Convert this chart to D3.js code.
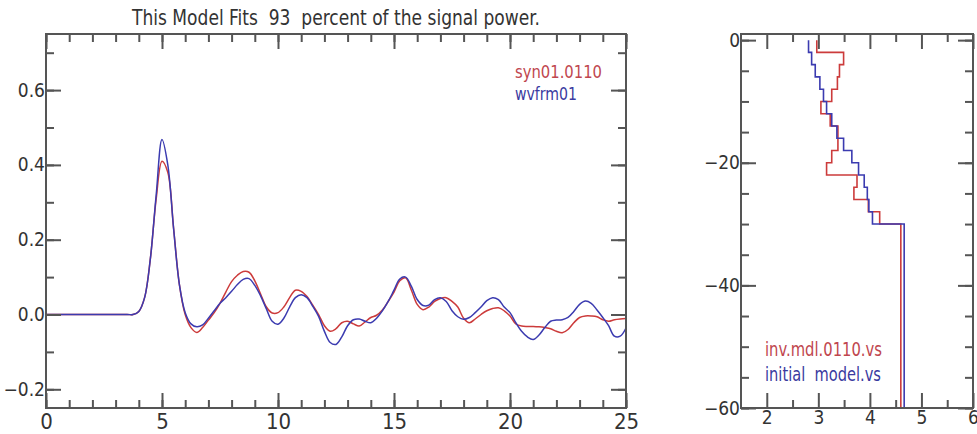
<!DOCTYPE html>
<html>
<head>
<meta charset="utf-8">
<script src="https://cdn.jsdelivr.net/npm/d3@7"></script>
<style>
  html, body { margin: 0; padding: 0; background: #fff; }
  svg { display: block; }
</style>
</head>
<body>
<svg id="chart" width="977" height="434"></svg>
<script>
// ---------------- DATA ----------------
const titleText = "This Model Fits  93  percent of the signal power.";
const waveNames = ["syn01.0110", "wvfrm01"];
const modelNames = ["inv.mdl.0110.vs", "initial  model.vs"];

const waveTime = [0, 3.5, 3.75, 4.0, 4.25, 4.5, 4.75, 5.0, 5.25, 5.5, 5.75, 6.0, 6.25, 6.5, 6.75,
  7.0, 7.25, 7.5, 7.75, 8.0, 8.25, 8.5, 8.75, 9.0, 9.25, 9.5, 9.75, 10.0, 10.25, 10.5, 10.75,
  11.0, 11.25, 11.5, 11.75, 12.0, 12.25, 12.5, 12.75, 13.0, 13.25, 13.5, 13.75, 14.0, 14.25,
  14.5, 14.75, 15.0, 15.25, 15.5, 15.75, 16.0, 16.25, 16.5, 16.75, 17.0, 17.25, 17.5, 17.75,
  18.0, 18.25, 18.5, 18.75, 19.0, 19.25, 19.5, 19.75, 20.0, 20.25, 20.5, 20.75, 21.0, 21.25,
  21.5, 21.75, 22.0, 22.25, 22.5, 22.75, 23.0, 23.25, 23.5, 23.75, 24.0, 24.25, 24.5, 24.75, 25.0];

const synValues = [0, 0, 0, 0.008, 0.045, 0.15, 0.31, 0.41, 0.38, 0.23, 0.08, 0.0, -0.035, -0.048, -0.035,
  -0.015, 0.005, 0.03, 0.06, 0.088, 0.105, 0.115, 0.113, 0.09, 0.055, 0.02, 0.004, 0.005, 0.02, 0.045, 0.065,
  0.062, 0.048, 0.025, 0.0, -0.03, -0.045, -0.038, -0.022, -0.018, -0.025, -0.031, -0.02, -0.008, -0.002,
  0.012, 0.035, 0.06, 0.09, 0.098, 0.065, 0.027, 0.013, 0.02, 0.035, 0.043, 0.045, 0.035, 0.02,
  -0.01, -0.022, -0.012, 0.0, 0.01, 0.016, 0.018, 0.01, -0.004, -0.025, -0.031, -0.032, -0.032, -0.033,
  -0.035, -0.038, -0.045, -0.049, -0.04, -0.022, -0.008, -0.004, -0.004, -0.006, -0.014, -0.018, -0.014, -0.012, -0.011];

const wvfrmValues = [0, 0, 0, 0.008, 0.045, 0.15, 0.32, 0.468, 0.40, 0.23, 0.08, 0.005, -0.025, -0.033, -0.028,
  -0.01, 0.01, 0.03, 0.045, 0.062, 0.08, 0.094, 0.096, 0.078, 0.05, 0.015, -0.018, -0.026, -0.01, 0.02, 0.045,
  0.053, 0.045, 0.022, -0.005, -0.045, -0.075, -0.08, -0.06, -0.03, -0.014, -0.012, -0.018, -0.022, -0.01,
  0.01, 0.035, 0.065, 0.095, 0.1, 0.075, 0.04, 0.024, 0.025, 0.04, 0.045, 0.035, 0.01, -0.006,
  -0.013, -0.008, 0.005, 0.02, 0.037, 0.045, 0.04, 0.02, 0.005, -0.022, -0.045, -0.06, -0.067, -0.055,
  -0.035, -0.018, -0.015, -0.014, -0.008, 0.008, 0.027, 0.036, 0.03, 0.012, -0.008, -0.03, -0.058, -0.058, -0.036];

const waveXTicks = [0, 5, 10, 15, 20, 25];
const waveYTicks = [-0.2, 0.0, 0.2, 0.4, 0.6];

// velocity model: layer tops (km, negative = depth) and shear velocities (km/s)
const layerTops = [0, -2, -4, -6, -8, -10, -12, -14, -16, -18, -20, -22, -24, -26, -28, -30];
const modelBottom = -60;
const invVs  = [2.97, 3.49, 3.41, 3.37, 3.26, 3.05, 3.23, 3.38, 3.38, 3.26, 3.16, 3.75, 3.69, 3.97, 4.19, 4.60];
const initVs = [2.81, 2.87, 2.94, 3.03, 3.10, 3.16, 3.26, 3.36, 3.49, 3.65, 3.78, 3.89, 3.95, 3.98, 4.05, 4.665];

const modelXTicks = [2, 3, 4, 5, 6];
const modelYTicks = [0, -20, -40, -60];

// ---------------- DRAW ----------------
const FONT = "'Liberation Sans Narrow', 'Arial Narrow', 'DejaVu Sans Condensed', 'Liberation Sans', sans-serif";
const AXIS = "#555";
const TEXT = "#333";
const RED = "#cc3b3b";
const BLUE = "#3b3bb0";
const svg = d3.select("#chart");

function fmt(v) {
  const s = Math.abs(v) < 1e-9 ? "0.0" : d3.format(".1f")(v);
  return s.replace("-", "\u2212");
}
function fmtInt(v) { return String(v).replace("-", "\u2212"); }

function styleAxis(g) {
  g.select(".domain").remove();
  g.selectAll("line").attr("stroke", AXIS).attr("stroke-width", 2);
  g.selectAll("text").attr("fill", TEXT).style("font-family", FONT);
}

function frameAxes(x, y, opts) {
  const [x0, x1] = x.range();
  const [y0, y1] = y.range(); // y0 bottom, y1 top
  const M = 15, m = 8;
  // bottom (with labels)
  svg.append("g").attr("transform", `translate(0,${y0})`)
    .call(d3.axisBottom(x).tickValues(opts.xMinor).tickSize(-m).tickFormat(""))
    .call(styleAxis);
  const bx = svg.append("g").attr("transform", `translate(0,${y0})`)
    .call(d3.axisBottom(x).tickValues(opts.xMajor).tickSize(-M).tickPadding(opts.xPad).tickFormat(opts.xFmt))
    .call(styleAxis);
  bx.selectAll("text").style("font-size", opts.xFont + "px");
  // top
  svg.append("g").attr("transform", `translate(0,${y1})`)
    .call(d3.axisTop(x).tickValues(opts.xMinor).tickSize(-m).tickFormat(""))
    .call(styleAxis);
  svg.append("g").attr("transform", `translate(0,${y1})`)
    .call(d3.axisTop(x).tickValues(opts.xMajor).tickSize(-M).tickFormat(""))
    .call(styleAxis);
  // left (with labels)
  svg.append("g").attr("transform", `translate(${x0},0)`)
    .call(d3.axisLeft(y).tickValues(opts.yMinor).tickSize(-m).tickFormat(""))
    .call(styleAxis);
  const ly = svg.append("g").attr("transform", `translate(${x0},0)`)
    .call(d3.axisLeft(y).tickValues(opts.yMajor).tickSize(-M).tickPadding(1).tickFormat(opts.yFmt))
    .call(styleAxis);
  ly.selectAll("text").style("font-size", opts.yFont + "px");
  // right
  svg.append("g").attr("transform", `translate(${x1},0)`)
    .call(d3.axisRight(y).tickValues(opts.yMinor).tickSize(-m).tickFormat(""))
    .call(styleAxis);
  svg.append("g").attr("transform", `translate(${x1},0)`)
    .call(d3.axisRight(y).tickValues(opts.yMajor).tickSize(-M).tickFormat(""))
    .call(styleAxis);
  // frame
  svg.append("rect").attr("x", x0).attr("y", y1).attr("width", x1 - x0).attr("height", y0 - y1)
    .attr("fill", "none").attr("stroke", AXIS).attr("stroke-width", 2);
}

// ---- left: waveforms ----
const xW = d3.scaleLinear().domain([0, 25]).range([46, 626]);
const yW = d3.scaleLinear().domain([-0.25, 0.75]).range([408, 34]);

const waveLine = vals => d3.line()
  .x((d, i) => xW(waveTime[i]))
  .y((d, i) => yW(vals[i]))
  .curve(d3.curveCatmullRom.alpha(0.5))(vals);

svg.append("path").attr("d", waveLine(synValues))
  .attr("fill", "none").attr("stroke", RED).attr("stroke-width", 1.5);
svg.append("path").attr("d", waveLine(wvfrmValues))
  .attr("fill", "none").attr("stroke", BLUE).attr("stroke-width", 1.5);

frameAxes(xW, yW, {
  xMajor: waveXTicks, xMinor: d3.range(0, 26, 1),
  yMajor: waveYTicks, yMinor: d3.range(-0.2, 0.75, 0.1).map(v => +v.toFixed(2)),
  xFmt: d => String(d), yFmt: fmt, xFont: 22, yFont: 19, xPad: 5
});

svg.append("text").attr("x", 132).attr("y", 25).text(titleText)
  .style("white-space", "pre").style("font-family", FONT).style("font-size", "21px")
  .attr("fill", TEXT).attr("textLength", 408).attr("lengthAdjust", "spacingAndGlyphs");

svg.append("text").attr("x", 515).attr("y", 78).text(waveNames[0])
  .style("font-family", FONT).style("font-size", "18px").attr("fill", "#c0464e")
  .attr("textLength", 87).attr("lengthAdjust", "spacingAndGlyphs");
svg.append("text").attr("x", 515).attr("y", 100).text(waveNames[1])
  .style("font-family", FONT).style("font-size", "18px").attr("fill", "#3a3aa0")
  .attr("textLength", 62).attr("lengthAdjust", "spacingAndGlyphs");

// ---- right: velocity model ----
const xM = d3.scaleLinear().domain([1.5, 6]).range([741, 973]);
const yM = d3.scaleLinear().domain([-60, 1]).range([408, 34]);

function profilePoints(vs) {
  const pts = [];
  vs.forEach((v, i) => {
    const top = layerTops[i];
    const bot = i + 1 < layerTops.length ? layerTops[i + 1] : modelBottom;
    pts.push([v, top], [v, bot]);
  });
  return pts;
}
const profLine = d3.line().x(d => xM(d[0])).y(d => yM(d[1]));

svg.append("path").attr("d", profLine(profilePoints(invVs)))
  .attr("fill", "none").attr("stroke", RED).attr("stroke-width", 1.6);
svg.append("path").attr("d", profLine(profilePoints(initVs)))
  .attr("fill", "none").attr("stroke", BLUE).attr("stroke-width", 1.6);

frameAxes(xM, yM, {
  xMajor: modelXTicks, xMinor: [2.5, 3.5, 4.5, 5.5],
  yMajor: modelYTicks, yMinor: d3.range(0, -61, -5),
  xFmt: d => String(d), yFmt: fmtInt, xFont: 19, yFont: 19, xPad: 2
});

svg.append("text").attr("x", 765).attr("y", 356).text(modelNames[0])
  .style("font-family", FONT).style("font-size", "19px").attr("fill", "#c0464e")
  .attr("textLength", 117).attr("lengthAdjust", "spacingAndGlyphs");
svg.append("text").attr("x", 765).attr("y", 381).text(modelNames[1])
  .style("white-space", "pre").style("font-family", FONT).style("font-size", "19px").attr("fill", "#3a3aa0")
  .attr("textLength", 116).attr("lengthAdjust", "spacingAndGlyphs");
</script>
</body>
</html>
